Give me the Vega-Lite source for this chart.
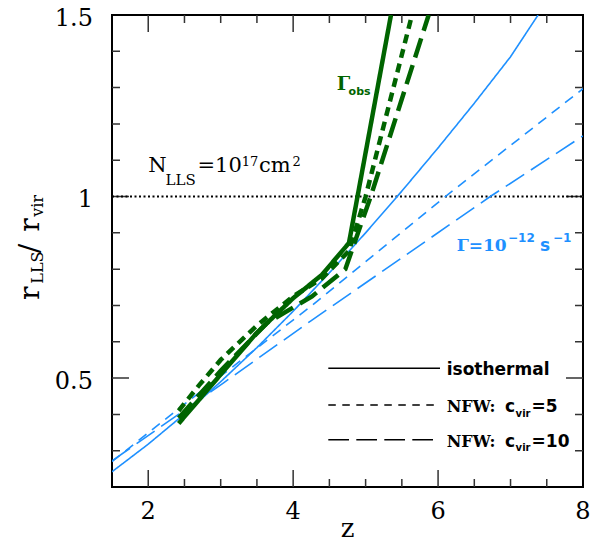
{
  "$schema": "https://vega.github.io/schema/vega-lite/v6.json",
  "width": 471,
  "height": 472,
  "autosize": {"type": "none"},
  "padding": {"left": 112, "top": 15, "right": 16, "bottom": 61},
  "background": "white",
  "config": {"view": {"stroke": "black", "strokeWidth": 2}},
  "datasets": {
    "curves": [
      {"z": 1.5, "r": 0.242, "model": "iso", "gamma": "fixed"},
      {"z": 2.0, "r": 0.318, "model": "iso", "gamma": "fixed"},
      {"z": 2.5, "r": 0.401, "model": "iso", "gamma": "fixed"},
      {"z": 3.0, "r": 0.490, "model": "iso", "gamma": "fixed"},
      {"z": 3.5, "r": 0.584, "model": "iso", "gamma": "fixed"},
      {"z": 4.0, "r": 0.684, "model": "iso", "gamma": "fixed"},
      {"z": 4.5, "r": 0.790, "model": "iso", "gamma": "fixed"},
      {"z": 5.0, "r": 0.900, "model": "iso", "gamma": "fixed"},
      {"z": 5.5, "r": 1.015, "model": "iso", "gamma": "fixed"},
      {"z": 6.0, "r": 1.134, "model": "iso", "gamma": "fixed"},
      {"z": 6.5, "r": 1.257, "model": "iso", "gamma": "fixed"},
      {"z": 7.0, "r": 1.385, "model": "iso", "gamma": "fixed"},
      {"z": 7.38, "r": 1.5, "model": "iso", "gamma": "fixed"},
      {"z": 1.5, "r": 0.270, "model": "nfw5", "gamma": "fixed"},
      {"z": 2.44, "r": 0.419, "model": "nfw5", "gamma": "fixed"},
      {"z": 4.26, "r": 0.700, "model": "nfw5", "gamma": "fixed"},
      {"z": 6.10, "r": 1.0, "model": "nfw5", "gamma": "fixed"},
      {"z": 8.0, "r": 1.297, "model": "nfw5", "gamma": "fixed"},
      {"z": 1.5, "r": 0.272, "model": "nfw10", "gamma": "fixed"},
      {"z": 3.04, "r": 0.487, "model": "nfw10", "gamma": "fixed"},
      {"z": 4.24, "r": 0.657, "model": "nfw10", "gamma": "fixed"},
      {"z": 6.72, "r": 1.0, "model": "nfw10", "gamma": "fixed"},
      {"z": 8.0, "r": 1.167, "model": "nfw10", "gamma": "fixed"},
      {"z": 2.42, "r": 0.375, "model": "iso", "gamma": "obs"},
      {"z": 2.7, "r": 0.44, "model": "iso", "gamma": "obs"},
      {"z": 3.0, "r": 0.51, "model": "iso", "gamma": "obs"},
      {"z": 3.5, "r": 0.625, "model": "iso", "gamma": "obs"},
      {"z": 4.0, "r": 0.72, "model": "iso", "gamma": "obs"},
      {"z": 4.4, "r": 0.785, "model": "iso", "gamma": "obs"},
      {"z": 4.77, "r": 0.872, "model": "iso", "gamma": "obs"},
      {"z": 5.35, "r": 1.5, "model": "iso", "gamma": "obs"},
      {"z": 2.42, "r": 0.41, "model": "nfw5", "gamma": "obs"},
      {"z": 2.7, "r": 0.48, "model": "nfw5", "gamma": "obs"},
      {"z": 3.0, "r": 0.55, "model": "nfw5", "gamma": "obs"},
      {"z": 3.5, "r": 0.645, "model": "nfw5", "gamma": "obs"},
      {"z": 4.0, "r": 0.725, "model": "nfw5", "gamma": "obs"},
      {"z": 4.4, "r": 0.775, "model": "nfw5", "gamma": "obs"},
      {"z": 4.77, "r": 0.85, "model": "nfw5", "gamma": "obs"},
      {"z": 5.0, "r": 1.0, "model": "nfw5", "gamma": "obs"},
      {"z": 5.64, "r": 1.5, "model": "nfw5", "gamma": "obs"},
      {"z": 2.42, "r": 0.39, "model": "nfw10", "gamma": "obs"},
      {"z": 3.0, "r": 0.52, "model": "nfw10", "gamma": "obs"},
      {"z": 3.64, "r": 0.652, "model": "nfw10", "gamma": "obs"},
      {"z": 4.26, "r": 0.725, "model": "nfw10", "gamma": "obs"},
      {"z": 4.72, "r": 0.80, "model": "nfw10", "gamma": "obs"},
      {"z": 5.07, "r": 1.0, "model": "nfw10", "gamma": "obs"},
      {"z": 5.87, "r": 1.5, "model": "nfw10", "gamma": "obs"}
    ],
    "ref": [{"z1": 1.5, "z2": 8, "r": 1}],
    "xmajor": [{"z": 2}, {"z": 4}, {"z": 6}],
    "xminor": [{"z": 2.5}, {"z": 3}, {"z": 3.5}, {"z": 4.5}, {"z": 5}, {"z": 5.5}, {"z": 6.5}, {"z": 7}, {"z": 7.5}],
    "ymajor": [{"r": 0.5}, {"r": 1.0}],
    "yminor": [{"r": 0.3}, {"r": 0.4}, {"r": 0.6}, {"r": 0.7}, {"r": 0.8}, {"r": 0.9}, {"r": 1.1}, {"r": 1.2}, {"r": 1.3}, {"r": 1.4}],
    "xlabels": [{"z": 2}, {"z": 4}, {"z": 6}, {"z": 8}],
    "ylabels": [{"r": 0.5}, {"r": 1.0}, {"r": 1.5}],
    "xtitle": [{"t": "z"}],
    "key": [
      {"z1": 4.485, "z2": 6.027, "r": 0.527, "model": "iso"},
      {"z1": 4.485, "z2": 6.027, "r": 0.426, "model": "nfw5"},
      {"z1": 4.485, "z2": 6.027, "r": 0.330, "model": "nfw10"}
    ],
    "ann": [
      {"t": "N", "z": 2.001, "r": 1.068, "k": "nmain"},
      {"t": "LLS", "z": 2.24, "r": 1.032, "k": "nsub"},
      {"t": "=10", "z": 2.68, "r": 1.068, "k": "nmain"},
      {"t": "17", "z": 3.29, "r": 1.084, "k": "nsup"},
      {"t": "cm", "z": 3.53, "r": 1.068, "k": "nmain"},
      {"t": "2", "z": 3.99, "r": 1.084, "k": "nsup"},
      {"t": "Γ=10", "z": 6.257, "r": 0.850, "k": "gmain"},
      {"t": "−12", "z": 6.965, "r": 0.876, "k": "gsup"},
      {"t": "s", "z": 7.407, "r": 0.850, "k": "gs"},
      {"t": "−1", "z": 7.586, "r": 0.876, "k": "gsup"},
      {"t": "Γ", "z": 4.601, "r": 1.293, "k": "omain"},
      {"t": "obs", "z": 4.765, "r": 1.280, "k": "osub"},
      {"t": "isothermal", "z": 6.119, "r": 0.509, "k": "lsans"},
      {"t": "NFW:", "z": 6.119, "r": 0.407, "k": "lserif"},
      {"t": "c", "z": 6.924, "r": 0.407, "k": "lsans"},
      {"t": "vir", "z": 7.07, "r": 0.394, "k": "lsub"},
      {"t": "=5", "z": 7.29, "r": 0.407, "k": "lsans"},
      {"t": "NFW:", "z": 6.119, "r": 0.311, "k": "lserif"},
      {"t": "c", "z": 6.924, "r": 0.311, "k": "lsans"},
      {"t": "vir", "z": 7.07, "r": 0.298, "k": "lsub"},
      {"t": "=10", "z": 7.29, "r": 0.311, "k": "lsans"},
      {"t": "r", "z": 0.497, "r": 0.715, "k": "ymain"},
      {"t": "LLS", "z": 0.541, "r": 0.760, "k": "ysub"},
      {"t": "/", "z": 0.497, "r": 0.844, "k": "ymain"},
      {"t": "r", "z": 0.497, "r": 0.903, "k": "ymain"},
      {"t": "vir", "z": 0.541, "r": 0.944, "k": "ysub"}
    ]
  },
  "resolve": {"scale": {"strokeDash": "independent"}},
  "layer": [
    {
      "data": {"name": "xmajor"},
      "mark": {"type": "rule", "color": "#333", "strokeWidth": 1.5, "strokeDash": [17, 438, 17]},
      "encoding": {
        "x": {"field": "z", "type": "quantitative", "scale": {"domain": [1.5, 8], "nice": false, "zero": false}, "axis": null},
        "y": {"datum": 0.2, "type": "quantitative", "scale": {"domain": [0.2, 1.5], "nice": false, "zero": false}, "axis": null},
        "y2": {"datum": 1.5}
      }
    },
    {
      "data": {"name": "xminor"},
      "mark": {"type": "rule", "color": "#333", "strokeWidth": 1.5, "strokeDash": [8, 456, 8]},
      "encoding": {
        "x": {"field": "z", "type": "quantitative", "scale": {"domain": [1.5, 8], "nice": false, "zero": false}, "axis": null},
        "y": {"datum": 0.2, "type": "quantitative", "scale": {"domain": [0.2, 1.5], "nice": false, "zero": false}, "axis": null},
        "y2": {"datum": 1.5}
      }
    },
    {
      "data": {"name": "ymajor"},
      "mark": {"type": "rule", "color": "#333", "strokeWidth": 1.5, "strokeDash": [17, 437, 17]},
      "encoding": {
        "y": {"field": "r", "type": "quantitative", "scale": {"domain": [0.2, 1.5], "nice": false, "zero": false}, "axis": null},
        "x": {"datum": 1.5, "type": "quantitative", "scale": {"domain": [1.5, 8], "nice": false, "zero": false}, "axis": null},
        "x2": {"datum": 8}
      }
    },
    {
      "data": {"name": "yminor"},
      "mark": {"type": "rule", "color": "#333", "strokeWidth": 1.5, "strokeDash": [8, 455, 8]},
      "encoding": {
        "y": {"field": "r", "type": "quantitative", "scale": {"domain": [0.2, 1.5], "nice": false, "zero": false}, "axis": null},
        "x": {"datum": 1.5, "type": "quantitative", "scale": {"domain": [1.5, 8], "nice": false, "zero": false}, "axis": null},
        "x2": {"datum": 8}
      }
    },
    {
      "data": {"name": "xlabels"},
      "mark": {"type": "text", "font": "DejaVu Serif", "fontSize": 24, "color": "black", "align": "center", "baseline": "alphabetic", "dy": 32},
      "encoding": {
        "x": {"field": "z", "type": "quantitative", "scale": {"domain": [1.5, 8], "nice": false, "zero": false}, "axis": null},
        "y": {"datum": 0.2, "type": "quantitative", "scale": {"domain": [0.2, 1.5], "nice": false, "zero": false}, "axis": null},
        "text": {"field": "z", "type": "quantitative", "format": "~g"}
      }
    },
    {
      "data": {"name": "ylabels"},
      "mark": {"type": "text", "font": "DejaVu Serif", "fontSize": 24, "color": "black", "align": "right", "baseline": "alphabetic", "dx": -19, "dy": 10.5},
      "encoding": {
        "y": {"field": "r", "type": "quantitative", "scale": {"domain": [0.2, 1.5], "nice": false, "zero": false}, "axis": null},
        "x": {"datum": 1.5, "type": "quantitative", "scale": {"domain": [1.5, 8], "nice": false, "zero": false}, "axis": null},
        "text": {"field": "r", "type": "quantitative", "format": "~g"}
      }
    },
    {
      "data": {"name": "xtitle"},
      "mark": {"type": "text", "font": "DejaVu Serif", "fontSize": 26, "color": "black", "align": "center", "baseline": "alphabetic", "dy": 50},
      "encoding": {
        "x": {"datum": 4.75, "type": "quantitative", "scale": {"domain": [1.5, 8], "nice": false, "zero": false}, "axis": null},
        "y": {"datum": 0.2, "type": "quantitative", "scale": {"domain": [0.2, 1.5], "nice": false, "zero": false}, "axis": null},
        "text": {"field": "t"}
      }
    },
    {
      "data": {"name": "ref"},
      "mark": {"type": "rule", "color": "black", "strokeWidth": 2, "strokeDash": [2, 2.5]},
      "encoding": {
        "x": {"field": "z1", "type": "quantitative", "scale": {"domain": [1.5, 8], "nice": false, "zero": false}, "axis": null},
        "x2": {"field": "z2"},
        "y": {"field": "r", "type": "quantitative", "scale": {"domain": [0.2, 1.5], "nice": false, "zero": false}, "axis": null}
      }
    },
    {
      "data": {"name": "key"},
      "mark": {"type": "rule", "color": "black", "strokeWidth": 1.6},
      "encoding": {
        "x": {"field": "z1", "type": "quantitative", "scale": {"domain": [1.5, 8], "nice": false, "zero": false}, "axis": null},
        "x2": {"field": "z2"},
        "y": {"field": "r", "type": "quantitative", "scale": {"domain": [0.2, 1.5], "nice": false, "zero": false}, "axis": null},
        "strokeDash": {
          "field": "model", "type": "nominal", "legend": null,
          "scale": {"domain": ["iso", "nfw5", "nfw10"], "range": [[1, 0], [7.5, 6.5], [20.7, 7.3]]}
        }
      }
    },
    {
      "data": {"name": "curves"},
      "transform": [{"filter": "datum.gamma === 'fixed'"}],
      "mark": {"type": "line", "color": "#1E90FF", "strokeWidth": 1.6, "clip": true},
      "encoding": {
        "x": {"field": "z", "type": "quantitative", "scale": {"domain": [1.5, 8], "nice": false, "zero": false}, "axis": null},
        "y": {"field": "r", "type": "quantitative", "scale": {"domain": [0.2, 1.5], "nice": false, "zero": false}, "axis": null},
        "detail": {"field": "model"},
        "strokeDash": {
          "field": "model", "type": "nominal", "legend": null,
          "scale": {"domain": ["iso", "nfw5", "nfw10"], "range": [[1, 0], [10, 7], [22, 8]]}
        }
      }
    },
    {
      "data": {"name": "curves"},
      "transform": [{"filter": "datum.gamma === 'obs'"}],
      "mark": {"type": "line", "color": "#006400", "strokeWidth": 4.5, "clip": true},
      "encoding": {
        "x": {"field": "z", "type": "quantitative", "scale": {"domain": [1.5, 8], "nice": false, "zero": false}, "axis": null},
        "y": {"field": "r", "type": "quantitative", "scale": {"domain": [0.2, 1.5], "nice": false, "zero": false}, "axis": null},
        "detail": {"field": "model"},
        "strokeDash": {
          "field": "model", "type": "nominal", "legend": null,
          "scale": {"domain": ["iso", "nfw5", "nfw10"], "range": [[1, 0], [9, 6], [20, 8]]}
        }
      }
    },
    {
      "data": {"name": "ann"},
      "transform": [{"filter": "datum.k === 'nmain'"}],
      "mark": {"type": "text", "font": "DejaVu Serif", "fontSize": 21, "color": "black", "align": "left", "baseline": "alphabetic"},
      "encoding": {
        "x": {"field": "z", "type": "quantitative", "scale": {"domain": [1.5, 8], "nice": false, "zero": false}, "axis": null},
        "y": {"field": "r", "type": "quantitative", "scale": {"domain": [0.2, 1.5], "nice": false, "zero": false}, "axis": null},
        "text": {"field": "t"}
      }
    },
    {
      "data": {"name": "ann"},
      "transform": [{"filter": "datum.k === 'nsub'"}],
      "mark": {"type": "text", "font": "DejaVu Serif", "fontSize": 15, "color": "black", "align": "left", "baseline": "alphabetic"},
      "encoding": {
        "x": {"field": "z", "type": "quantitative", "scale": {"domain": [1.5, 8], "nice": false, "zero": false}, "axis": null},
        "y": {"field": "r", "type": "quantitative", "scale": {"domain": [0.2, 1.5], "nice": false, "zero": false}, "axis": null},
        "text": {"field": "t"}
      }
    },
    {
      "data": {"name": "ann"},
      "transform": [{"filter": "datum.k === 'nsup'"}],
      "mark": {"type": "text", "font": "DejaVu Serif", "fontSize": 13, "color": "black", "align": "left", "baseline": "alphabetic"},
      "encoding": {
        "x": {"field": "z", "type": "quantitative", "scale": {"domain": [1.5, 8], "nice": false, "zero": false}, "axis": null},
        "y": {"field": "r", "type": "quantitative", "scale": {"domain": [0.2, 1.5], "nice": false, "zero": false}, "axis": null},
        "text": {"field": "t"}
      }
    },
    {
      "data": {"name": "ann"},
      "transform": [{"filter": "datum.k === 'gmain'"}],
      "mark": {"type": "text", "font": "DejaVu Serif", "fontWeight": "bold", "fontSize": 17, "color": "#1E90FF", "align": "left", "baseline": "alphabetic"},
      "encoding": {
        "x": {"field": "z", "type": "quantitative", "scale": {"domain": [1.5, 8], "nice": false, "zero": false}, "axis": null},
        "y": {"field": "r", "type": "quantitative", "scale": {"domain": [0.2, 1.5], "nice": false, "zero": false}, "axis": null},
        "text": {"field": "t"}
      }
    },
    {
      "data": {"name": "ann"},
      "transform": [{"filter": "datum.k === 'gs'"}],
      "mark": {"type": "text", "font": "DejaVu Sans", "fontWeight": "bold", "fontSize": 17, "color": "#1E90FF", "align": "left", "baseline": "alphabetic"},
      "encoding": {
        "x": {"field": "z", "type": "quantitative", "scale": {"domain": [1.5, 8], "nice": false, "zero": false}, "axis": null},
        "y": {"field": "r", "type": "quantitative", "scale": {"domain": [0.2, 1.5], "nice": false, "zero": false}, "axis": null},
        "text": {"field": "t"}
      }
    },
    {
      "data": {"name": "ann"},
      "transform": [{"filter": "datum.k === 'gsup'"}],
      "mark": {"type": "text", "font": "DejaVu Sans", "fontWeight": "bold", "fontSize": 12, "color": "#1E90FF", "align": "left", "baseline": "alphabetic"},
      "encoding": {
        "x": {"field": "z", "type": "quantitative", "scale": {"domain": [1.5, 8], "nice": false, "zero": false}, "axis": null},
        "y": {"field": "r", "type": "quantitative", "scale": {"domain": [0.2, 1.5], "nice": false, "zero": false}, "axis": null},
        "text": {"field": "t"}
      }
    },
    {
      "data": {"name": "ann"},
      "transform": [{"filter": "datum.k === 'omain'"}],
      "mark": {"type": "text", "font": "DejaVu Serif", "fontWeight": "bold", "fontSize": 19, "color": "#006400", "align": "left", "baseline": "alphabetic"},
      "encoding": {
        "x": {"field": "z", "type": "quantitative", "scale": {"domain": [1.5, 8], "nice": false, "zero": false}, "axis": null},
        "y": {"field": "r", "type": "quantitative", "scale": {"domain": [0.2, 1.5], "nice": false, "zero": false}, "axis": null},
        "text": {"field": "t"}
      }
    },
    {
      "data": {"name": "ann"},
      "transform": [{"filter": "datum.k === 'osub'"}],
      "mark": {"type": "text", "font": "DejaVu Sans", "fontWeight": "bold", "fontSize": 11, "color": "#006400", "align": "left", "baseline": "alphabetic"},
      "encoding": {
        "x": {"field": "z", "type": "quantitative", "scale": {"domain": [1.5, 8], "nice": false, "zero": false}, "axis": null},
        "y": {"field": "r", "type": "quantitative", "scale": {"domain": [0.2, 1.5], "nice": false, "zero": false}, "axis": null},
        "text": {"field": "t"}
      }
    },
    {
      "data": {"name": "ann"},
      "transform": [{"filter": "datum.k === 'lsans'"}],
      "mark": {"type": "text", "font": "DejaVu Sans", "fontWeight": "bold", "fontSize": 17, "color": "black", "align": "left", "baseline": "alphabetic"},
      "encoding": {
        "x": {"field": "z", "type": "quantitative", "scale": {"domain": [1.5, 8], "nice": false, "zero": false}, "axis": null},
        "y": {"field": "r", "type": "quantitative", "scale": {"domain": [0.2, 1.5], "nice": false, "zero": false}, "axis": null},
        "text": {"field": "t"}
      }
    },
    {
      "data": {"name": "ann"},
      "transform": [{"filter": "datum.k === 'lserif'"}],
      "mark": {"type": "text", "font": "DejaVu Serif", "fontWeight": "bold", "fontSize": 16, "color": "black", "align": "left", "baseline": "alphabetic"},
      "encoding": {
        "x": {"field": "z", "type": "quantitative", "scale": {"domain": [1.5, 8], "nice": false, "zero": false}, "axis": null},
        "y": {"field": "r", "type": "quantitative", "scale": {"domain": [0.2, 1.5], "nice": false, "zero": false}, "axis": null},
        "text": {"field": "t"}
      }
    },
    {
      "data": {"name": "ann"},
      "transform": [{"filter": "datum.k === 'lsub'"}],
      "mark": {"type": "text", "font": "DejaVu Sans", "fontWeight": "bold", "fontSize": 10, "color": "black", "align": "left", "baseline": "alphabetic"},
      "encoding": {
        "x": {"field": "z", "type": "quantitative", "scale": {"domain": [1.5, 8], "nice": false, "zero": false}, "axis": null},
        "y": {"field": "r", "type": "quantitative", "scale": {"domain": [0.2, 1.5], "nice": false, "zero": false}, "axis": null},
        "text": {"field": "t"}
      }
    },
    {
      "data": {"name": "ann"},
      "transform": [{"filter": "datum.k === 'ymain'"}],
      "mark": {"type": "text", "font": "DejaVu Serif", "fontSize": 28, "color": "black", "align": "left", "baseline": "alphabetic", "angle": 270},
      "encoding": {
        "x": {"field": "z", "type": "quantitative", "scale": {"domain": [1.5, 8], "nice": false, "zero": false}, "axis": null},
        "y": {"field": "r", "type": "quantitative", "scale": {"domain": [0.2, 1.5], "nice": false, "zero": false}, "axis": null},
        "text": {"field": "t"}
      }
    },
    {
      "data": {"name": "ann"},
      "transform": [{"filter": "datum.k === 'ysub'"}],
      "mark": {"type": "text", "font": "DejaVu Serif", "fontSize": 16, "color": "black", "align": "left", "baseline": "alphabetic", "angle": 270},
      "encoding": {
        "x": {"field": "z", "type": "quantitative", "scale": {"domain": [1.5, 8], "nice": false, "zero": false}, "axis": null},
        "y": {"field": "r", "type": "quantitative", "scale": {"domain": [0.2, 1.5], "nice": false, "zero": false}, "axis": null},
        "text": {"field": "t"}
      }
    }
  ]
}
